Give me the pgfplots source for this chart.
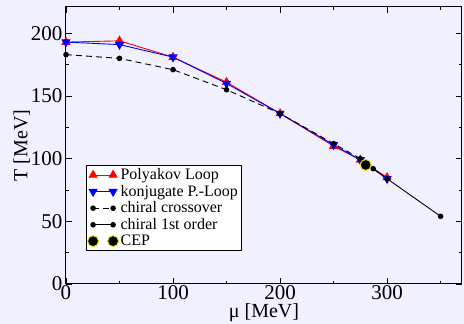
\documentclass[border=0pt]{standalone}
\usepackage{pgfplots}
\pgfplotsset{compat=1.18}
\usepackage{fontspec}
\setmainfont{Liberation Serif}
\definecolor{bgc}{RGB}{240,240,255}
\definecolor{cepy}{RGB}{230,230,0}
\begin{document}
\begin{tikzpicture}[x=1pt,y=1pt]
\fill[bgc] (-66,-40) rectangle (398,284);
\useasboundingbox (-66,-40) rectangle (398,284);
\begin{axis}[
  at={(0,0)}, anchor=south west,
  scale only axis, width=396pt, height=277pt,
  xmin=0, xmax=370, ymin=0, ymax=221,
  xtick={0,100,200,300}, ytick={0,50,100,150,200},
  minor xtick={50,150,250,350}, minor ytick={25,75,125,175,225},
  tick align=inside, major tick length=6pt, minor tick length=3pt,
  tick style={black, line width=0.8pt},
  axis line style={line width=1pt},
  axis background/.style={fill=bgc},
  ticklabel style={font=\fontsize{21}{22}\selectfont},
  xticklabel style={yshift=2pt},
  /pgf/number format/assume math mode=true,
  xlabel={μ [MeV]}, ylabel={T [MeV]},
  label style={font=\fontsize{20}{22}\selectfont},
  xlabel style={yshift=2.5pt},
  ylabel style={yshift=-6pt},
  legend style={at={(0.05,0.43)}, anchor=north west, draw=black, line width=0.6pt, fill=white,
     font=\fontsize{16}{17}\selectfont, row sep=0pt, inner sep=1.5pt},
  legend cell align=left,
  legend image code/.code={\draw[#1] plot coordinates {(0pt,0pt) (20pt,0pt)};},
]
\addplot[red, line width=0.9pt, mark=triangle*, mark size=4.5pt] coordinates {
 (0,193) (50,194) (100,181) (150,161) (200,136) (250,110) (275,99) (300,85)};
\addlegendentry{Polyakov Loop}
\addplot[blue, line width=0.9pt, mark=triangle*, mark size=4.5pt, mark options={rotate=180}] coordinates {
 (0,193) (50,191) (100,181) (150,160) (200,136) (250,111) (275,99) (300,84)};
\addlegendentry{konjugate P.-Loop}
\addplot[black, dash pattern=on 6pt off 4pt, line width=0.9pt, mark=*, mark size=2.3pt, mark options={solid}] coordinates {
 (0,183) (50,180) (100,171) (150,155) (200,136) (250,112) (275,100)};
\addlegendentry{chiral crossover}
\addplot[black, line width=0.9pt, mark=*, mark size=2.3pt] coordinates {
 (280,95) (287,92) (300,84) (350,54)};
\addlegendentry{chiral 1st order}
\addplot[only marks, mark=*, mark size=5.5pt, mark options={fill=black, draw=cepy, line width=1pt}] coordinates {(280,95)};
\addlegendentry{CEP}
\end{axis}
\end{tikzpicture}
\end{document}
